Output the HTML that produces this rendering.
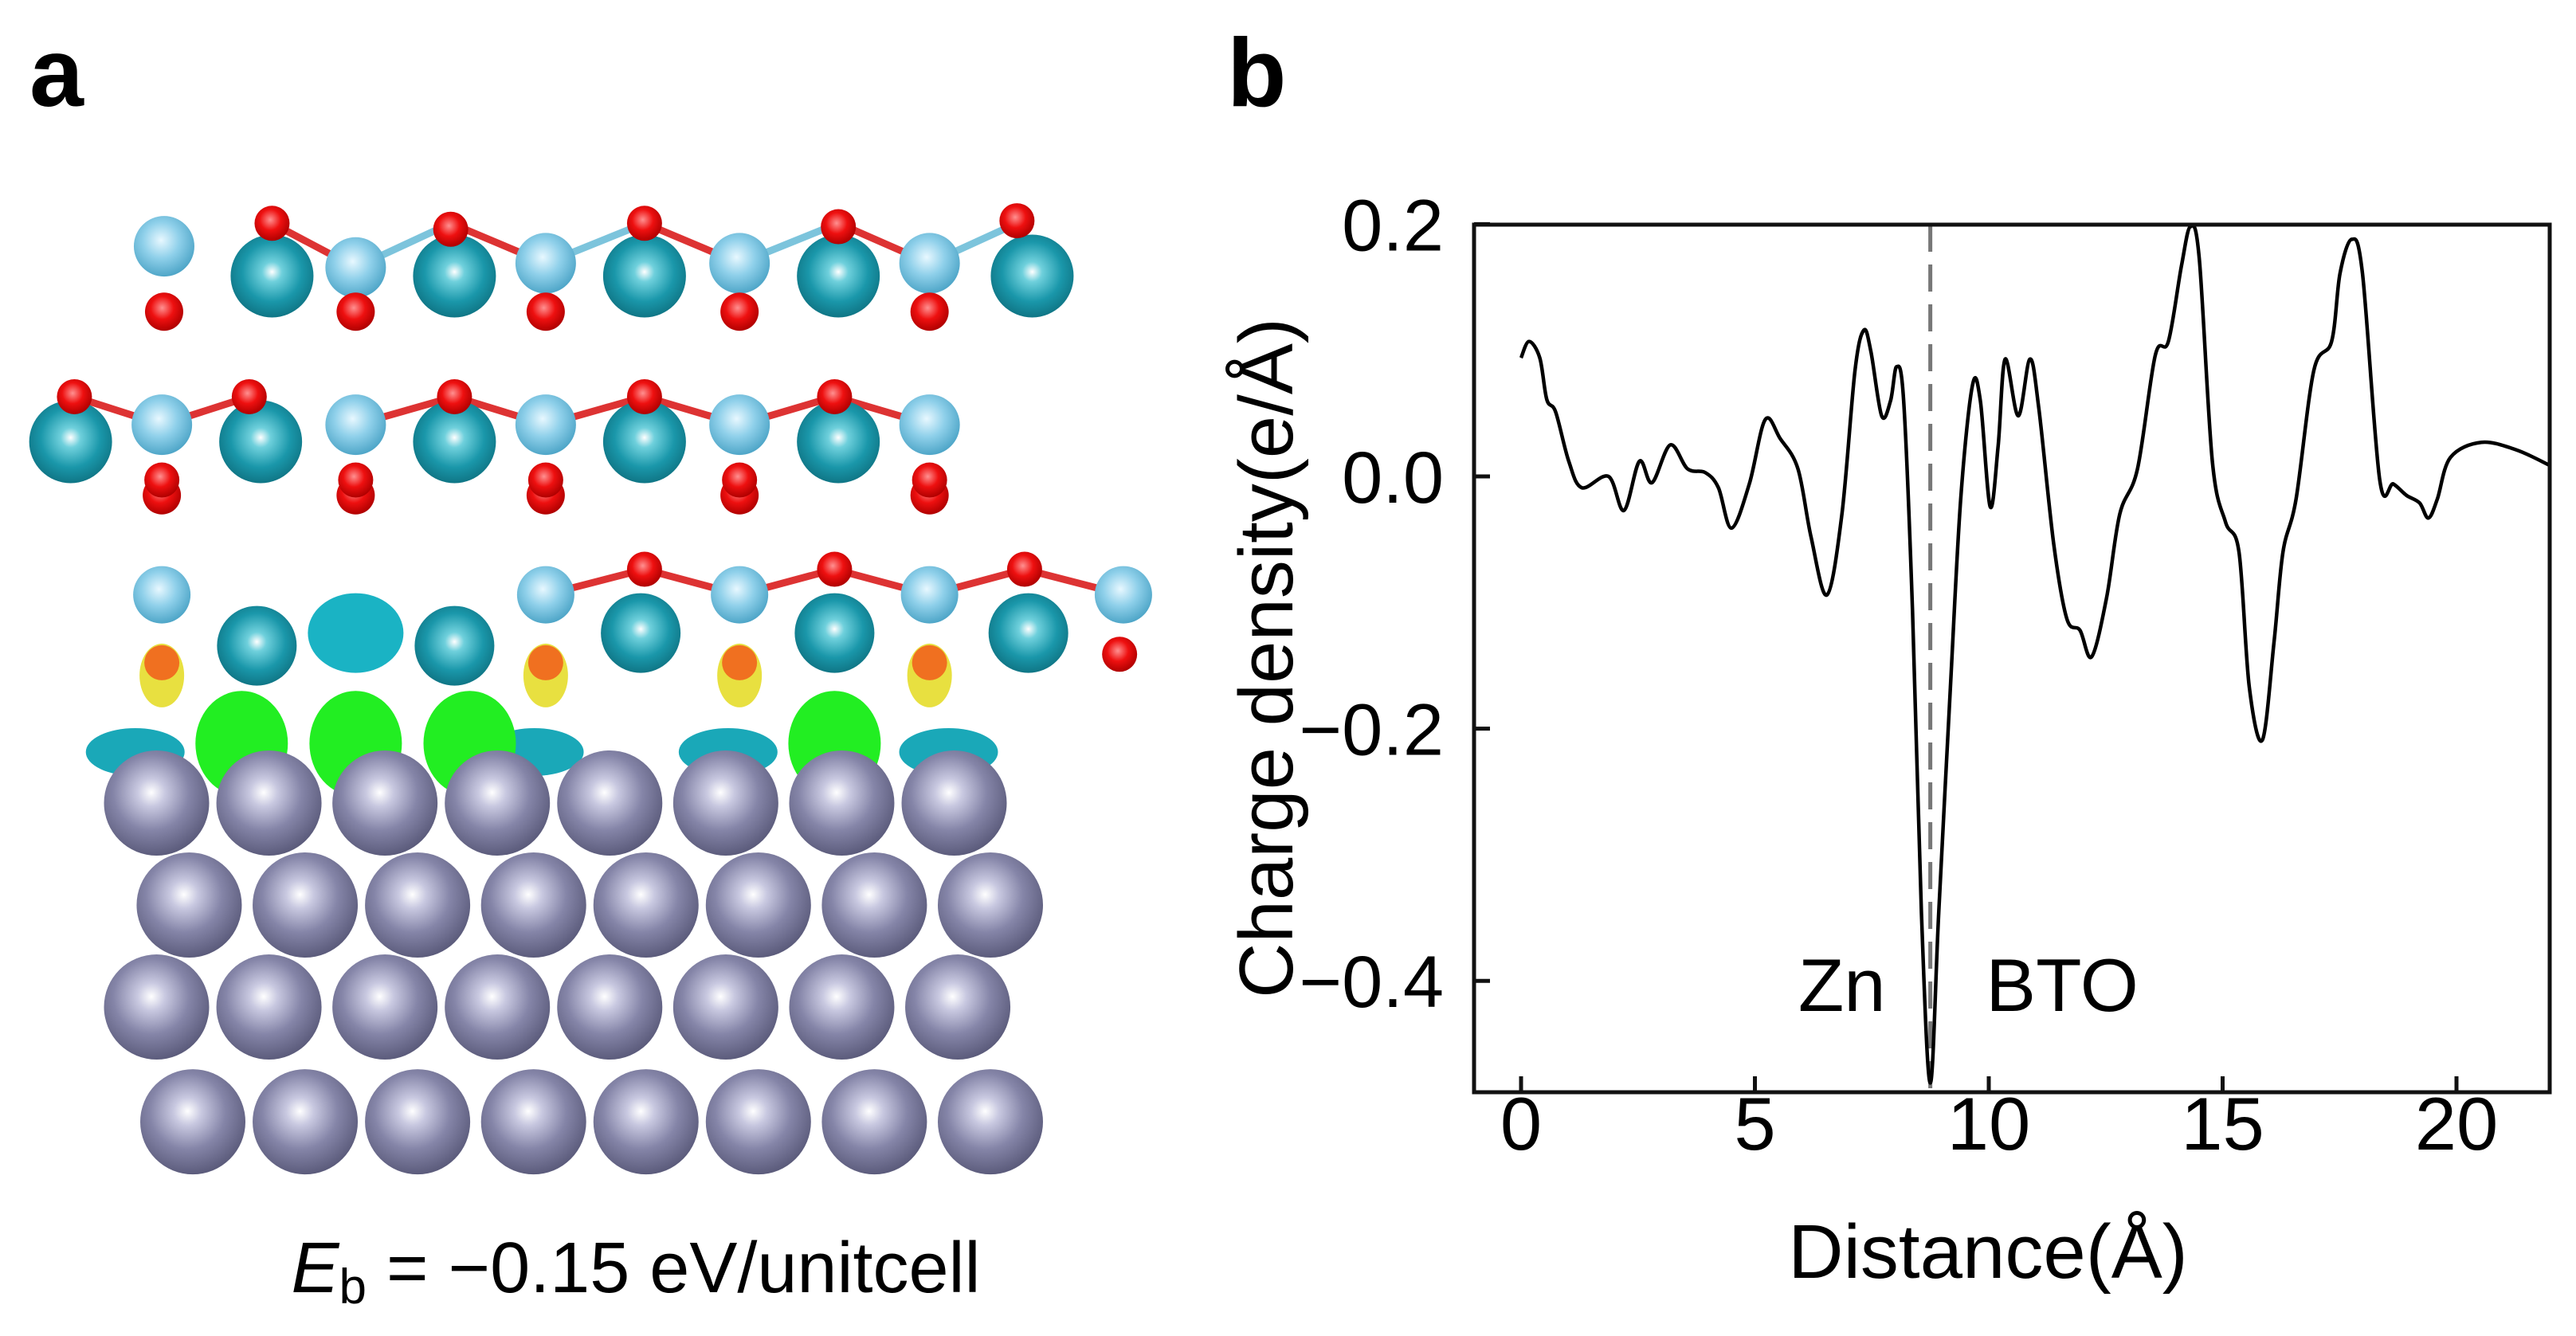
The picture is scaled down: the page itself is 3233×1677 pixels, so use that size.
<!DOCTYPE html>
<html><head><meta charset="utf-8">
<style>
html,body{margin:0;padding:0;background:#fff;}
svg{display:block;}
text{font-family:"Liberation Sans",Arial,sans-serif;fill:#000;}
</style></head>
<body>
<svg id="fig" width="3233" height="1677" viewBox="0 0 3233 1677" xmlns="http://www.w3.org/2000/svg">
<defs>
<radialGradient id="gZn" cx="0.45" cy="0.4" r="0.6"><stop offset="0" stop-color="#ffffff"/><stop offset="0.22" stop-color="#c8c8e0"/><stop offset="0.6" stop-color="#8585a8"/><stop offset="1" stop-color="#5c5c7c"/></radialGradient>
<radialGradient id="gTeal" cx="0.5" cy="0.45" r="0.6"><stop offset="0" stop-color="#ffffff"/><stop offset="0.2" stop-color="#6fd0dc"/><stop offset="0.6" stop-color="#1a97aa"/><stop offset="1" stop-color="#0d6d7c"/></radialGradient>
<radialGradient id="gLb" cx="0.45" cy="0.4" r="0.6"><stop offset="0" stop-color="#e8f8ff"/><stop offset="0.5" stop-color="#8fd0ea"/><stop offset="1" stop-color="#4fa6c8"/></radialGradient>
<radialGradient id="gO" cx="0.45" cy="0.4" r="0.6"><stop offset="0" stop-color="#ff9090"/><stop offset="0.5" stop-color="#ee1010"/><stop offset="1" stop-color="#b00000"/></radialGradient>
</defs>
<text x="37" y="133" font-size="122" font-weight="bold">a</text>
<text x="1540" y="133" font-size="122" font-weight="bold">b</text>
<g id="structure"></g>
<text x="798" y="1622" font-size="90" text-anchor="middle"><tspan font-style="italic">E</tspan><tspan font-size="62" dy="14">b</tspan><tspan dy="-14"> = −0.15 eV/unitcell</tspan></text>
<g id="chart"></g>
</svg>
<script>
// ---- chart data ----
const xValues=[0,0.17,0.4,0.55,0.74,1.02,1.3,1.87,2.2,2.53,2.8,3.19,3.56,3.94,4.22,4.5,4.88,5.22,5.54,5.92,6.2,6.54,6.86,7.14,7.33,7.48,7.71,7.9,8.03,8.18,8.37,8.56,8.75,8.93,9.18,9.4,9.65,9.82,10.03,10.2,10.35,10.63,10.88,11.07,11.39,11.67,11.95,12.2,12.52,12.8,13.18,13.56,13.84,14.12,14.31,14.5,14.78,15.06,15.35,15.57,15.85,16.1,16.29,16.57,16.95,17.33,17.51,17.76,17.99,18.36,18.65,18.93,19.21,19.4,19.59,19.87,20.53,21.28,21.98];
const chargeValues=[0.094,0.107,0.094,0.061,0.051,0.012,-0.009,0,-0.027,0.012,-0.005,0.025,0.006,0.003,-0.009,-0.041,-0.006,0.045,0.03,0.006,-0.048,-0.094,-0.03,0.084,0.116,0.099,0.048,0.06,0.087,0.06,-0.107,-0.346,-0.481,-0.346,-0.167,-0.018,0.072,0.06,-0.024,0.024,0.093,0.048,0.093,0.054,-0.054,-0.113,-0.122,-0.143,-0.096,-0.03,0.006,0.096,0.107,0.167,0.198,0.173,0.012,-0.036,-0.06,-0.167,-0.209,-0.131,-0.06,-0.018,0.084,0.107,0.161,0.188,0.161,-0.003,-0.006,-0.015,-0.021,-0.033,-0.018,0.015,0.027,0.021,0.009];
const xTicks=[0,5,10,15,20];
const xTickLabels=["0","5","10","15","20"];
const yTicks=[0.2,0,-0.2,-0.4];
const yTickLabels=["0.2","0.0","\u22120.2","\u22120.4"];
const interfaceX=[8.75];
const regionLabels=["Zn","BTO"];
const regionX=[6.86,11.57];
const regionY=[-0.403,-0.403];

const NS="http://www.w3.org/2000/svg";
function mk(tag,attrs,parent){const e=document.createElementNS(NS,tag);for(const k in attrs)e.setAttribute(k,attrs[k]);parent.appendChild(e);return e;}
const L=1850,R=3200,T=282,B=1371;
const sx=v=>1909+(v-0)*(3083-1909)/20;
const sy=v=>598-v*1583;
const chart=document.getElementById('chart');

interfaceX.forEach(v=>{const l=mk('line',{x1:sx(v),x2:sx(v),y1:T,y2:B,stroke:'#777','stroke-width':5,'stroke-dasharray':'34 16'},chart);

});

const pts=xValues.map((x,i)=>[sx(x),sy(chargeValues[i])]);
let d='M'+pts[0][0]+','+pts[0][1];
for(let i=0;i<pts.length-1;i++){const p0=pts[Math.max(0,i-1)],p1=pts[i],p2=pts[i+1],p3=pts[Math.min(pts.length-1,i+2)];
const c1=[p1[0]+(p2[0]-p0[0])/6,p1[1]+(p2[1]-p0[1])/6],c2=[p2[0]-(p3[0]-p1[0])/6,p2[1]-(p3[1]-p1[1])/6];
d+=` C${c1[0]},${c1[1]} ${c2[0]},${c2[1]} ${p2[0]},${p2[1]}`;}
const curve=mk('path',{d:d,fill:'none',stroke:'#000','stroke-width':4.5,'stroke-linejoin':'round'},chart);



const frame=mk('rect',{x:L,y:T,width:R-L,height:B-T,fill:'none',stroke:'#111','stroke-width':5},chart);



xTicks.forEach((v,i)=>{const t=mk('line',{x1:sx(v),x2:sx(v),y1:B,y2:B-20,stroke:'#111','stroke-width':5},chart);


const tx=mk('text',{x:sx(v),y:1443,'font-size':94,'text-anchor':'middle'},chart);tx.textContent=xTickLabels[i];

});
yTicks.forEach((v,i)=>{const t=mk('line',{x1:L,x2:L+20,y1:sy(v),y2:sy(v),stroke:'#111','stroke-width':5},chart);


const tx=mk('text',{x:1812,y:sy(v)+33,'font-size':92,'text-anchor':'end'},chart);tx.textContent=yTickLabels[i];

});
regionLabels.forEach((s,i)=>{const tx=mk('text',{x:sx(regionX[i]),y:sy(regionY[i])+33,'font-size':94,'text-anchor':'middle'},chart);tx.textContent=s;

});
const xt=mk('text',{x:2495,y:1604,'font-size':96,'text-anchor':'middle'},chart);xt.textContent='Distance(Å)';


const yt=mk('text',{x:0,y:0,'font-size':96,'text-anchor':'middle',transform:'translate(1622,826) rotate(-90)'},chart);yt.textContent='Charge density(e/Å)';



// ---- structure (illustration) ----
const S=document.getElementById('structure');
const Xz=v=>0.91*v+60, Xu=v=>0.954*v-2, Y=v=>1.067*v+5;
function atom(cx,cy,r,fill,name,X){X=X||Xu;const c=mk('circle',{cx:X(cx),cy:Y(cy),r:r,fill:fill},S);}
function bond(x1,y1,x2,y2,col){const l=mk('line',{x1:Xu(x1),y1:Y(y1),x2:Xu(x2),y2:Y(y2),stroke:col,'stroke-width':9},S);}
function blob(cx,cy,rx,ry,fill,name){const e=mk('ellipse',{cx:Xu(cx),cy:Y(cy),rx:rx,ry:ry,fill:fill},S);}
// layer1
const l1Ti=[[470,310],[720,305],[975,305],[1225,305]], l1O=[360,595,850,1105,1340];
l1Ti.forEach((p,i)=>{bond(p[0],p[1],l1O[i],258,'#d33');bond(p[0],p[1],l1O[i+1],258,'#7cc4dc');});
[360,600,850,1105,1360].forEach(x=>atom(x,320,52,'url(#gTeal)','ba-atom'));
[[218,285],[470,310],[720,305],[975,305],[1225,305]].forEach(p=>atom(p[0],p[1],38,'url(#gLb)','ti-atom'));
[[360,258],[595,265],[850,258],[1105,262],[1340,255]].forEach(p=>atom(p[0],p[1],22,'url(#gO)','o-atom'));
[218,470,720,975,1225].forEach(x=>atom(x,362,24,'url(#gO)','o-atom'));
// layer2
[[215,100],[215,330],[470,600],[720,600],[720,850],[975,850],[975,1100],[1225,1100]].forEach(p=>bond(p[0],495,p[1],462,'#d33'));
[95,345,600,850,1105].forEach(x=>atom(x,515,52,'url(#gTeal)','ba-atom'));
[215,470,720,975,1225].forEach(x=>atom(x,495,38,'url(#gLb)','ti-atom'));
[100,330,600,850,1100].forEach(x=>atom(x,462,22,'url(#gO)','o-atom'));
[215,470,720,975,1225].forEach(x=>{atom(x,578,24,'url(#gO)','o-atom');atom(x,560,22,'url(#gO)','o-atom');});
// layer3
[[720,850],[975,850],[975,1100],[1225,1100],[1225,1350],[1480,1350]].forEach(p=>bond(p[0],695,p[1],665,'#d33'));
[845,1100,1355].forEach(x=>atom(x,740,50,'url(#gTeal)','ba-atom'));
[215,720,975,1225,1480].forEach(x=>atom(x,695,36,'url(#gLb)','ti-atom'));
[850,1100,1350].forEach(x=>atom(x,665,22,'url(#gO)','o-atom'));
atom(1475,765,22,'url(#gO)','o-atom');
[340,600].forEach(x=>atom(x,755,50,'url(#gTeal)','ba-atom'));
blob(470,740,60,50,'#1ab3c4','charge-depletion');
[215,720,975,1225].forEach(x=>{blob(x,790,28,40,'#e8e040','charge-accumulation');atom(x,775,22,'#f07020','o-atom');});
// isosurfaces
[180,705,960,1250].forEach(x=>blob(x,880,62,30,'#1aa8b8','charge-depletion'));
[320,470,620,1100].forEach(x=>blob(x,870,58,66,'#22ee22','charge-accumulation'));
// Zn slab
const rowsY=[940,1060,1180,1315],rowsX=[[150,305,465,620,775,935,1095,1250],[195,355,510,670,825,980,1140,1300],[150,305,465,620,775,935,1095,1255],[200,355,510,670,825,980,1140,1300]];
rowsY.forEach((y,i)=>rowsX[i].forEach(x=>atom(x,y,66,'url(#gZn)','zn-atom',Xz)));
</script>
</body></html>
